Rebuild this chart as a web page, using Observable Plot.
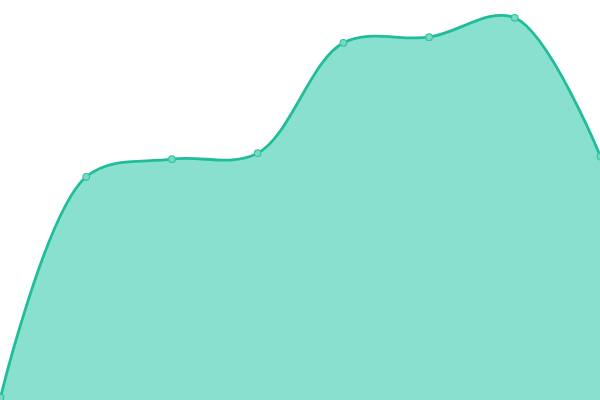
<!DOCTYPE html>
<html><head><meta charset="utf-8">
<script src="https://cdn.jsdelivr.net/npm/d3@7"></script>
<script src="https://cdn.jsdelivr.net/npm/@observablehq/plot@0.6"></script>
<style>body{margin:0;background:#fff}</style>
</head><body><div id="chart"></div>
<script>
const categories = [0, 1, 2, 3, 4, 5, 6, 7];
const values = [3, 223.7, 241.3, 247.3, 357.7, 363.3, 382.7, 244];
const data = categories.map((c, i) => ({x: c, y: values[i]}));
const chart = Plot.plot({
  width: 600, height: 400,
  marginTop: 0, marginRight: 0, marginBottom: 0, marginLeft: 0,
  x: {domain: [0, 7], axis: null},
  y: {domain: [0, 400], axis: null},
  marks: [
    Plot.areaY(data, {x: "x", y: "y", curve: "catmull-rom", fill: "#89e0cf"}),
    Plot.lineY(data, {x: "x", y: "y", curve: "catmull-rom", stroke: "#1fbd98", strokeWidth: 2.8}),
    Plot.dot(data, {x: "x", y: "y", r: 3.3, fill: "#7ad9c4", stroke: "#34c3a3", strokeWidth: 1.2})
  ]
});
document.getElementById("chart").append(chart);
</script>
</body></html>
